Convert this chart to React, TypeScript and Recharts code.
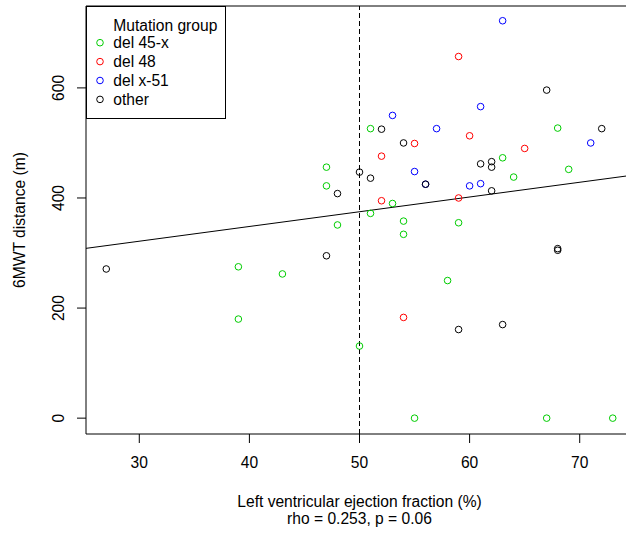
import { ScatterChart, Scatter, XAxis, YAxis, ReferenceLine, Legend } from 'recharts';

// axis ranges (R style: data range extended by 4%)
const X_DOMAIN = [25.16, 74.84];
const Y_DOMAIN = [-28.8, 748.8];
const X_TICKS = [30, 40, 50, 60, 70];
const Y_TICKS = [0, 200, 400, 600];
const LVEF_CUTOFF = 50;

// linear fit drawn across the whole plot
const FIT_INTERCEPT = 241.1;
const FIT_SLOPE = 2.678;

// del 45-x
const del45xLvef = [47, 47, 48, 39, 43, 39, 51, 68, 63, 64, 69, 53, 51, 54, 54, 59, 58, 50, 55, 67, 73];
const del45xWalk = [456, 422, 351, 275, 262, 180, 526, 527, 473, 438, 452, 390, 372, 358, 334, 355, 250, 131, 0, 0, 0];

// del 48
const del48Lvef = [59, 60, 55, 65, 52, 52, 59, 54];
const del48Walk = [657, 513, 499, 490, 476, 395, 400, 183];

// del x-51
const delx51Lvef = [63, 61, 53, 57, 71, 55, 56, 60, 61];
const delx51Walk = [722, 566, 550, 526, 500, 448, 425, 422, 426];

// other
const otherLvef = [27, 48, 47, 67, 52, 72, 54, 61, 62, 62, 50, 51, 56, 62, 68, 68, 59, 63];
const otherWalk = [271, 408, 295, 596, 525, 526, 500, 462, 466, 456, 447, 436, 425, 413, 308, 305, 161, 170];

const toPoints = (xs: number[], ys: number[]) => xs.map((x, i) => ({ lvef: x, walk: ys[i] }));

const GROUPS = [
  { name: 'del 45-x', color: '#00CD00', data: toPoints(del45xLvef, del45xWalk) },
  { name: 'del 48', color: '#FF0000', data: toPoints(del48Lvef, del48Walk) },
  { name: 'del x-51', color: '#0000FF', data: toPoints(delx51Lvef, delx51Walk) },
  { name: 'other', color: '#000000', data: toPoints(otherLvef, otherWalk) },
];

const FONT = '"Liberation Sans", Arial, Helvetica, sans-serif';
const FS = 15.6;

const ringShape = (color: string) => (props: any) => (
  <circle cx={props.cx} cy={props.cy} r={3.3} fill="none" stroke={color} strokeWidth={1} />
);

const YTick = (props: any) => {
  const { x, y, payload } = props;
  return (
    <text x={x} y={y} transform={`rotate(-90, ${x}, ${y})`} textAnchor="middle" fontSize={FS} fill="#000">
      {payload.value}
    </text>
  );
};

const GroupLegend = () => (
  <svg width={140} height={113} style={{ display: 'block' }}>
    <rect x={0.5} y={0.5} width={139} height={112} fill="#fff" stroke="#000" />
    <text x={27.3} y={24.7} fontSize={FS} fill="#000">Mutation group</text>
    {GROUPS.map((g, i) => (
      <g key={g.name}>
        <circle cx={14} cy={36.7 + i * 18.9} r={3.3} fill="none" stroke={g.color} />
        <text x={27.3} y={42.3 + i * 18.9} fontSize={FS} fill="#000">{g.name}</text>
      </g>
    ))}
  </svg>
);

export default function App() {
  const fitSegment = [
    { x: X_DOMAIN[0], y: FIT_INTERCEPT + FIT_SLOPE * X_DOMAIN[0] },
    { x: X_DOMAIN[1], y: FIT_INTERCEPT + FIT_SLOPE * X_DOMAIN[1] },
  ];

  return (
    <div
      style={{
        position: 'fixed',
        left: 0,
        top: 0,
        width: 626,
        height: 533,
        overflow: 'hidden',
        background: '#fff',
        fontFamily: FONT,
      }}
    >
      <ScatterChart width={640} height={533} margin={{ top: 6, right: 7, bottom: 0, left: 0 }}>
        <XAxis
          type="number"
          dataKey="lvef"
          domain={X_DOMAIN}
          ticks={X_TICKS}
          allowDataOverflow
          height={99}
          tickSize={9}
          tickMargin={14}
          stroke="#000"
          tick={{ fontSize: FS, fill: '#000' }}
          label={{
            content: ({ viewBox }: any) => {
              const cx = viewBox.x + viewBox.width / 2;
              return (
                <g>
                  <text x={cx} y={viewBox.y + 72.5} textAnchor="middle" fontSize={FS} fill="#000">
                    Left ventricular ejection fraction (%)
                  </text>
                  <text x={cx} y={viewBox.y + 90} textAnchor="middle" fontSize={FS} fill="#000">
                    rho = 0.253, p = 0.06
                  </text>
                </g>
              );
            },
          }}
        />
        <YAxis
          type="number"
          dataKey="walk"
          domain={Y_DOMAIN}
          ticks={Y_TICKS}
          allowDataOverflow
          width={86}
          tickSize={9}
          tickMargin={13}
          stroke="#000"
          tick={<YTick />}
          label={{
            content: ({ viewBox }: any) => {
              const cy = viewBox.y + viewBox.height / 2;
              return (
                <text x={25} y={cy} transform={`rotate(-90, 25, ${cy})`} textAnchor="middle" fontSize={FS} fill="#000">
                  6MWT distance (m)
                </text>
              );
            },
          }}
        />
        <ReferenceLine y={Y_DOMAIN[1]} stroke="#000" ifOverflow="visible" />
        <ReferenceLine x={LVEF_CUTOFF} stroke="#000" strokeDasharray="5 3" />
        <ReferenceLine segment={fitSegment} stroke="#000" ifOverflow="hidden" />
        {GROUPS.map((g) => (
          <Scatter
            key={g.name}
            name={g.name}
            data={g.data}
            shape={ringShape(g.color)}
            isAnimationActive={false}
          />
        ))}
        <Legend
          layout="vertical"
          align="center"
          verticalAlign="middle"
          wrapperStyle={{ left: 86, top: 6, width: 140, height: 113 }}
          content={<GroupLegend />}
        />
      </ScatterChart>
    </div>
  );
}
